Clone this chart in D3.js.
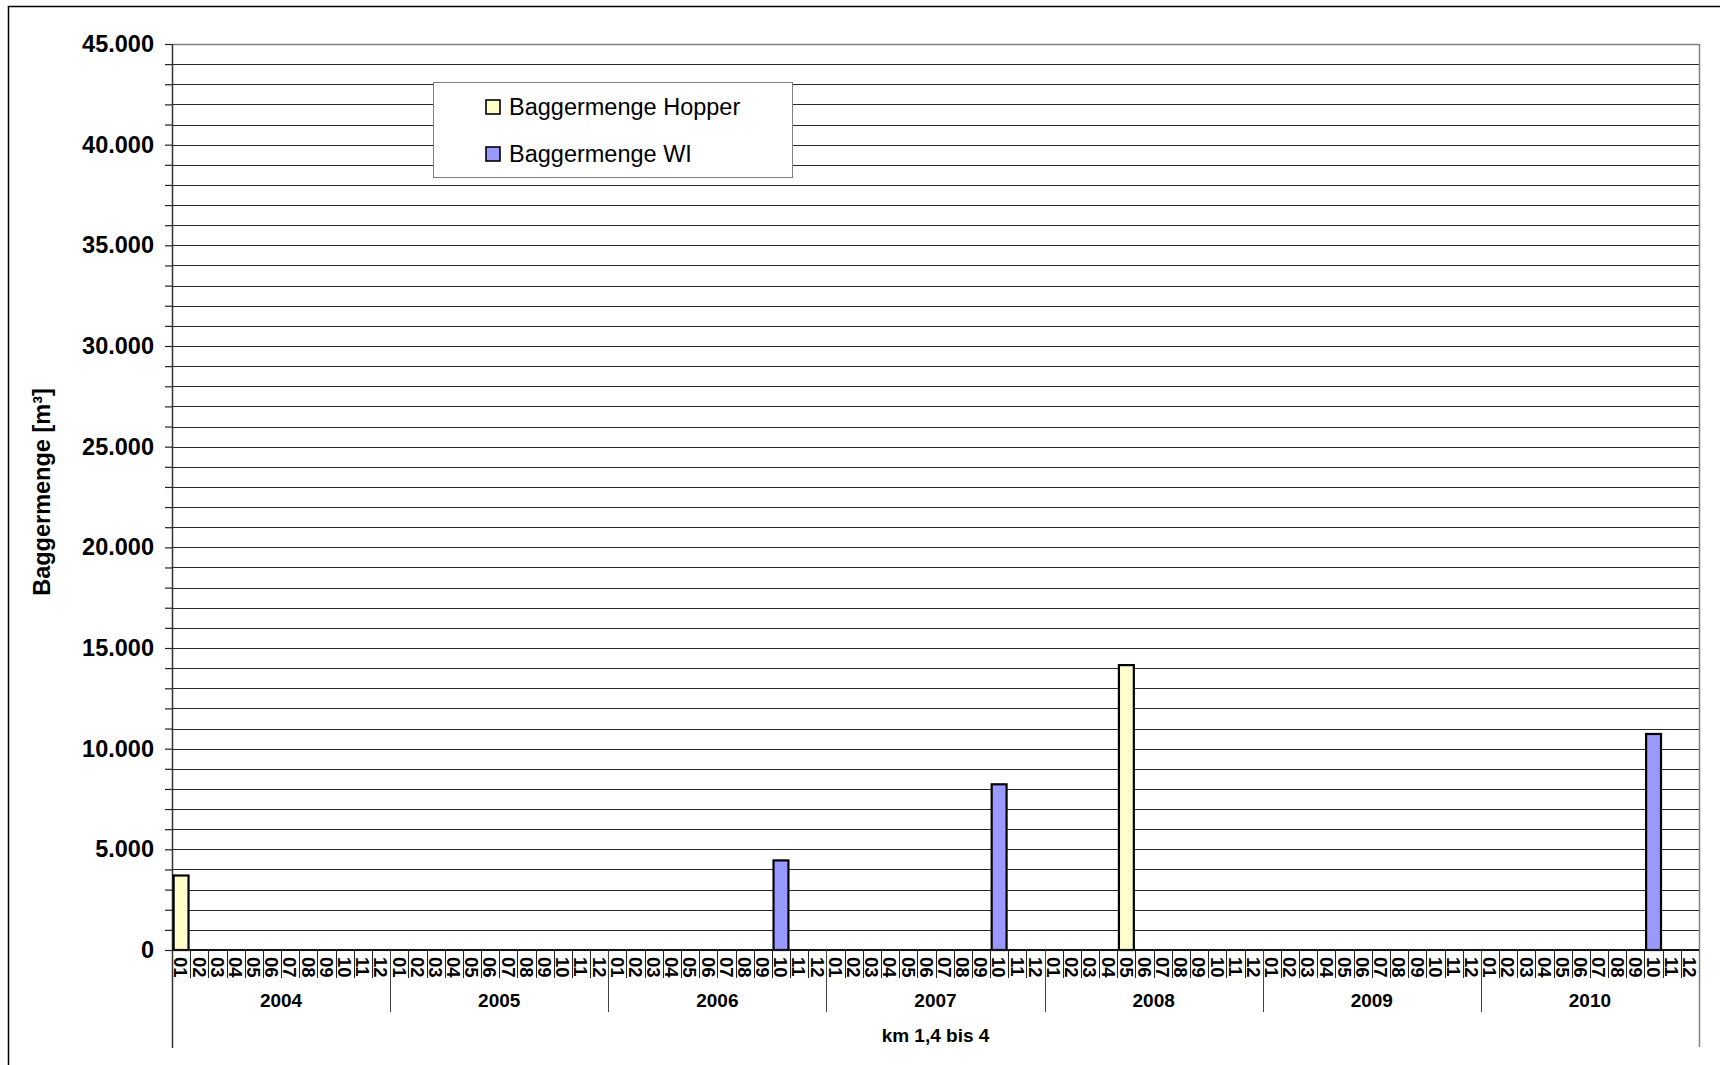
<!DOCTYPE html>
<html>
<head>
<meta charset="utf-8">
<script src="https://cdn.jsdelivr.net/npm/d3@7"></script>
<style>
  html, body { margin: 0; padding: 0; background: #fff; overflow: hidden; }
  svg { display: block; font-family: "Liberation Sans", Arial, sans-serif; }
</style>
</head>
<body>
<svg id="chart" width="1720" height="1065"></svg>
<script>
// ---- data ----
const years = ["2004", "2005", "2006", "2007", "2008", "2009", "2010"];
const monthLabels = ["01","02","03","04","05","06","07","08","09","10","11","12"];
const hopperMonths = ["2004-01", "2008-05"];
const hopperValues = [3700, 14150];
const wiMonths = ["2006-10", "2007-10", "2010-10"];
const wiValues = [4450, 8230, 10730];
const yTickValues = [0, 5000, 10000, 15000, 20000, 25000, 30000, 35000, 40000, 45000];
const seriesNames = ["Baggermenge Hopper", "Baggermenge WI"];
const seriesColors = ["#FFFFCC", "#9999FF"];
const yTitle = "Baggermenge [m³]";
const xTitle = "km 1,4 bis 4";

// ---- layout ----
const W = 1720, H = 1065;
const pLeft = 172, pRight = 1699, pTop = 44, pBottom = 950;
const svg = d3.select("#chart");

const categories = [];
years.forEach(yr => monthLabels.forEach(m => categories.push(yr + "-" + m)));

const x = d3.scaleBand().domain(categories).range([pLeft, pRight]).paddingInner(0).paddingOuter(0);
const y = d3.scaleLinear().domain([0, 45000]).range([pBottom, pTop]);
const fmt = v => d3.format(",")(v).replace(/,/g, ".");

// outer frame
svg.append("rect").attr("x", 8.5).attr("y", 6.5).attr("width", W + 20).attr("height", H + 20)
  .attr("fill", "none").attr("stroke", "#000").attr("stroke-width", 1.5);

// gridlines every 1000
const minor = d3.range(1000, 45000, 1000);
svg.append("g").selectAll("line").data(minor).join("line")
  .attr("x1", pLeft).attr("x2", pRight)
  .attr("y1", d => Math.round(y(d)) + 0.5).attr("y2", d => Math.round(y(d)) + 0.5)
  .attr("stroke", "#2a2a2a").attr("stroke-width", 1);

// plot area top / right border
svg.append("line").attr("x1", pLeft).attr("x2", pRight).attr("y1", pTop + 0.5).attr("y2", pTop + 0.5)
  .attr("stroke", "#808080").attr("stroke-width", 1.5);
svg.append("line").attr("x1", pRight + 0.5).attr("x2", pRight + 0.5).attr("y1", pTop).attr("y2", 1047)
  .attr("stroke", "#808080").attr("stroke-width", 1.5);

// y axis
const yAxis = d3.axisLeft(y).tickValues(yTickValues).tickFormat(fmt).tickSize(7).tickPadding(11);
const gy = svg.append("g").attr("transform", `translate(${pLeft},0)`).call(yAxis);
gy.select(".domain").remove();
gy.selectAll(".tick line").attr("stroke", "#222").attr("stroke-width", 1.2);
gy.selectAll(".tick text").attr("font-size", 23.5).attr("font-weight", "bold").attr("fill", "#000")
  .attr("font-family", "'Liberation Sans', Arial, sans-serif");
// minor ticks
const yMinor = d3.axisLeft(y).tickValues(minor.filter(v => v % 5000 !== 0)).tickFormat("").tickSize(7);
const gym = svg.append("g").attr("transform", `translate(${pLeft},0)`).call(yMinor);
gym.select(".domain").remove();
gym.selectAll(".tick line").attr("stroke", "#222").attr("stroke-width", 1.2);

// y axis line (extended downward through category labels)
svg.append("line").attr("x1", pLeft + 0.5).attr("x2", pLeft + 0.5).attr("y1", pTop).attr("y2", 1048)
  .attr("stroke", "#333").attr("stroke-width", 1.5);

// bars
function drawBars(months, values, color) {
  const bw = x.bandwidth() * 0.82;
  svg.append("g").selectAll("rect").data(months.map((m, i) => ({ m, v: values[i] }))).join("rect")
    .attr("x", d => x(d.m) + (x.bandwidth() - bw) / 2)
    .attr("y", d => y(d.v))
    .attr("width", bw)
    .attr("height", d => y(0) - y(d.v))
    .attr("fill", color).attr("stroke", "#000").attr("stroke-width", 2.2);
}
drawBars(hopperMonths, hopperValues, seriesColors[0]);
drawBars(wiMonths, wiValues, seriesColors[1]);

// x axis baseline
svg.append("line").attr("x1", pLeft).attr("x2", pRight).attr("y1", pBottom).attr("y2", pBottom)
  .attr("stroke", "#111").attr("stroke-width", 2);

// month separators
const bounds = d3.range(1, categories.length).map(i => x(categories[i]));
svg.append("g").selectAll("line").data(bounds).join("line")
  .attr("x1", d => Math.round(d) + 0.5).attr("x2", d => Math.round(d) + 0.5)
  .attr("y1", pBottom).attr("y2", 978)
  .attr("stroke", "#222").attr("stroke-width", 1);

// year separators
const yearBounds = d3.range(1, years.length).map(i => x(years[i] + "-01"));
svg.append("g").selectAll("line").data(yearBounds).join("line")
  .attr("x1", d => Math.round(d) + 0.5).attr("x2", d => Math.round(d) + 0.5)
  .attr("y1", pBottom).attr("y2", 1012)
  .attr("stroke", "#444").attr("stroke-width", 1);

// month labels (rotated)
svg.append("g").selectAll("text").data(categories).join("text")
  .attr("transform", d => `translate(${x(d) + x.bandwidth() / 2},957) rotate(90)`)
  .attr("dy", "0.36em")
  .attr("font-size", 18.5).attr("font-weight", "bold").attr("fill", "#000")
  .text(d => d.slice(5));

// year labels
svg.append("g").selectAll("text").data(years).join("text")
  .attr("x", d => x(d + "-01") + x.bandwidth() * 6)
  .attr("y", 1000).attr("dy", "0.36em").attr("text-anchor", "middle")
  .attr("font-size", 19).attr("font-weight", "bold").attr("fill", "#000")
  .text(d => d);

// x title
svg.append("text").attr("x", (pLeft + pRight) / 2).attr("y", 1035).attr("dy", "0.36em")
  .attr("text-anchor", "middle").attr("font-size", 19).attr("font-weight", "bold")
  .text(xTitle);

// y title
svg.append("text").attr("transform", "translate(42,492) rotate(-90)")
  .attr("dy", "0.36em").attr("text-anchor", "middle")
  .attr("font-size", 23.5).attr("font-weight", "bold").text(yTitle);

// legend
const lg = svg.append("g");
lg.append("rect").attr("x", 433.5).attr("y", 82.5).attr("width", 359).attr("height", 95)
  .attr("fill", "#fff").attr("stroke", "#808080").attr("stroke-width", 1);
const legendY = [107, 154];
seriesNames.forEach((name, i) => {
  lg.append("rect").attr("x", 486).attr("y", legendY[i] - 7).attr("width", 14).attr("height", 14)
    .attr("fill", seriesColors[i]).attr("stroke", "#000").attr("stroke-width", 1.6);
  lg.append("text").attr("x", 509).attr("y", legendY[i]).attr("dy", "0.36em")
    .attr("font-size", 23.5).attr("fill", "#000").text(name);
});
</script>
</body>
</html>
